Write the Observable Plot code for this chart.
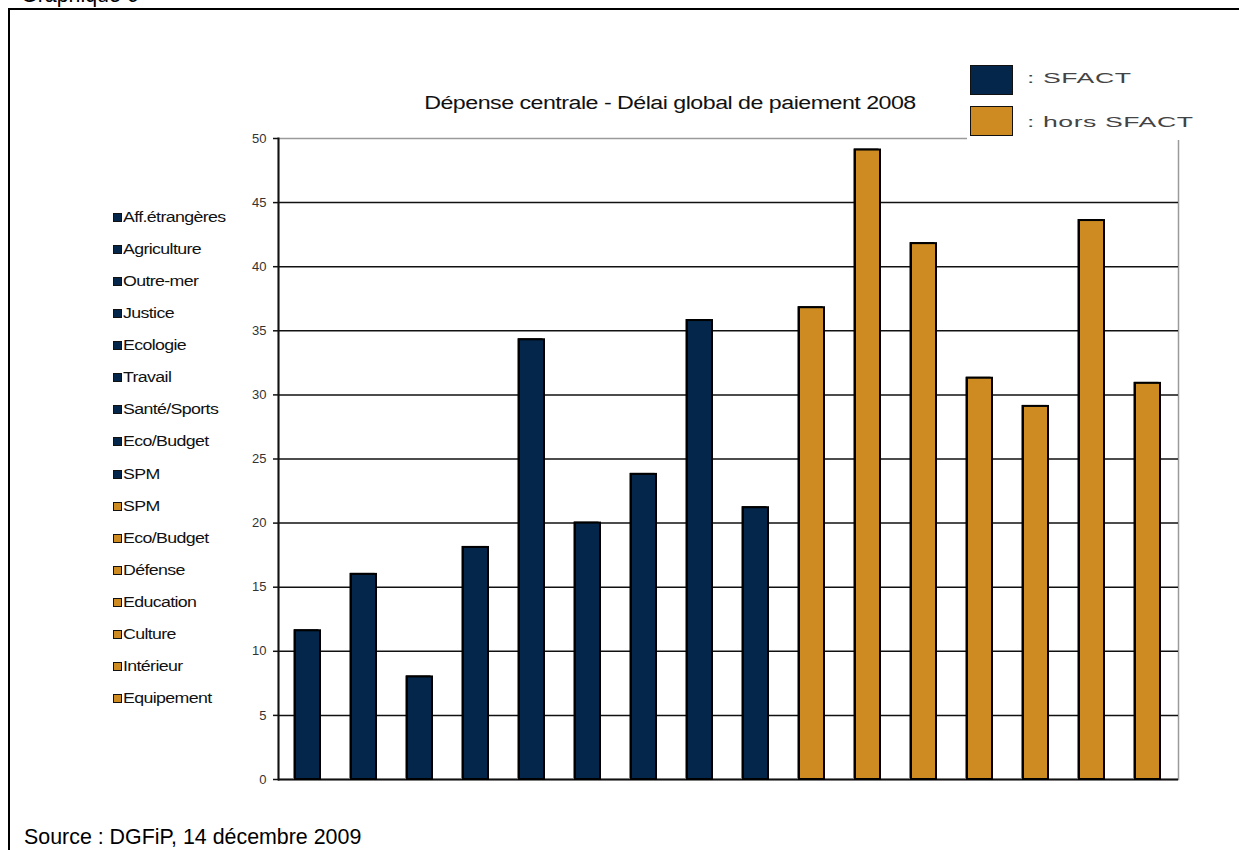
<!DOCTYPE html>
<html><head><meta charset="utf-8">
<script src="https://cdn.jsdelivr.net/npm/d3@7"></script>
<script src="https://cdn.jsdelivr.net/npm/@observablehq/plot@0.6"></script>
<style>
body{margin:0;background:#fff;font-family:"Liberation Sans",Arial,sans-serif;}
#page{position:relative;width:1239px;height:850px;overflow:hidden;background:#fff;}
#frame{position:absolute;left:8px;top:8px;width:1400px;height:1000px;border:2px solid #000;}
#graph{position:absolute;left:21px;top:-17px;font-size:21.4px;color:#000;line-height:24px;}
#chart{position:absolute;left:0;top:0;}
#title{position:absolute;left:0;width:1340px;top:92px;text-align:center;font-size:18px;letter-spacing:-0.4px;color:#111;line-height:22px;transform:scaleX(1.29);transform-origin:670px 50%;}
#legendbox{position:absolute;left:967px;top:50px;width:272px;height:90px;background:#fff;}
.sw{position:absolute;left:970px;width:41px;height:28px;border:1.5px solid #111;}
.lt{position:absolute;left:1027px;font-size:14px;color:#444;letter-spacing:0.3px;line-height:16px;transform-origin:left center;transform:scaleX(1.9);white-space:nowrap;}
#catlegend{position:absolute;left:113px;top:0;}
.ci{position:absolute;left:0;white-space:nowrap;font-size:14px;letter-spacing:-0.5px;color:#111;line-height:16px;}
.ci span.m{display:inline-block;width:7px;height:7px;border:1px solid #111;margin-right:1px;vertical-align:0px;}
.ci span.t{display:inline-block;transform-origin:left center;transform:scaleX(1.27);}
#source{position:absolute;left:24px;top:825px;font-size:21.4px;color:#000;line-height:24px;white-space:nowrap;}
</style></head>
<body><div id="page">
<div id="frame"></div>
<div id="graph">Graphique 6</div>
<div id="chart"></div>
<div id="title">Dépense centrale - Délai global de paiement 2008</div>
<div id="legendbox"></div>
<div id="toplegend"></div>
<div id="catlegend"></div>
<div id="source">Source : DGFiP, 14 décembre 2009</div>
</div>
<script>
const categories = ["Aff.étrangères","Agriculture","Outre-mer","Justice","Ecologie","Travail","Santé/Sports","Eco/Budget","SPM","SPM","Eco/Budget","Défense","Education","Culture","Intérieur","Equipement"];
const groups = ["SFACT","SFACT","SFACT","SFACT","SFACT","SFACT","SFACT","SFACT","SFACT","hors SFACT","hors SFACT","hors SFACT","hors SFACT","hors SFACT","hors SFACT","hors SFACT"];
const values = [11.6,16.0,8.0,18.1,34.3,20.0,23.8,35.8,21.2,36.8,49.1,41.8,31.3,29.1,43.6,30.9];
const seriesNames = ["SFACT","hors SFACT"];
const seriesColors = ["#03264a","#cd8b22"];
const yTicks = [0,5,10,15,20,25,30,35,40,45,50];

const data = categories.map((c,i)=>({i, category:c, group:groups[i], value:values[i]}));

const chart = Plot.plot({
  width:1239, height:850,
  marginLeft:278, marginRight:61, marginTop:138, marginBottom:71,
  style:{background:"transparent", fontFamily:"Liberation Sans, Arial, sans-serif", fontSize:"13px", color:"#333"},
  x:{type:"band", domain:d3.range(categories.length), paddingInner:0.55, paddingOuter:0.275, axis:null},
  y:{domain:[0,50], ticks:yTicks, label:null, axis:null},
  color:{domain:seriesNames, range:seriesColors},
  marks:[
    Plot.frame({stroke:"#9a9a9a", strokeWidth:1.5}),
    Plot.gridY(yTicks.filter(t=>t>0 && t<50), {stroke:"#111", strokeOpacity:1, strokeWidth:1.5}),
    Plot.ruleY([0], {stroke:"#111", strokeWidth:2}),
    Plot.frame({anchor:"left", stroke:"#111", strokeWidth:2}),
    Plot.axisY({ticks:yTicks, tickSize:5, tickPadding:7, label:null, stroke:"#111", strokeWidth:1.5, fill:"#333", fontSize:13}),
    Plot.barY(data, {x:"i", y:"value", fill:"black", dx:-1.5, dy:-1}),
    Plot.barY(data, {x:"i", y:"value", fill:"group", stroke:"#000", strokeWidth:2})
  ]
});
document.getElementById("chart").appendChild(chart);

// top-right legend
const tl = document.getElementById("toplegend");
const swTop = [65, 106];
const txtTop = [70, 114];
seriesNames.forEach((s,k)=>{
  const sw = document.createElement("div");
  sw.className = "sw"; sw.style.top = swTop[k]+"px"; sw.style.background = seriesColors[k];
  tl.appendChild(sw);
  const t = document.createElement("div");
  t.className = "lt"; t.style.top = txtTop[k]+"px"; t.textContent = ": " + s;
  tl.appendChild(t);
});

// category legend on the left
const cl = document.getElementById("catlegend");
categories.forEach((c,i)=>{
  const d = document.createElement("div");
  d.className = "ci";
  d.style.top = (209 + i*32.07) + "px";
  const m = document.createElement("span");
  m.className = "m";
  m.style.background = seriesColors[seriesNames.indexOf(groups[i])];
  d.appendChild(m);
  const t = document.createElement("span");
  t.className = "t";
  t.textContent = c;
  d.appendChild(t);
  cl.appendChild(d);
});
</script>
</body></html>
